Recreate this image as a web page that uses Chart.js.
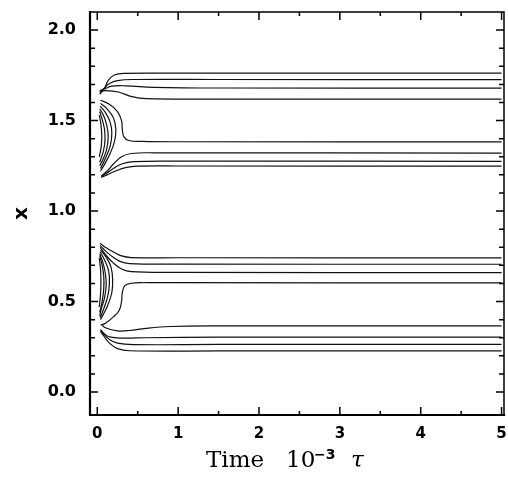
<!DOCTYPE html>
<html>
<head>
<meta charset="utf-8">
<script src="https://cdn.jsdelivr.net/npm/chart.js@4.4.1/dist/chart.umd.min.js"></script>
<style>
  html, body { margin: 0; padding: 0; background: #fff; }
  canvas { display: block; }
</style>
</head>
<body>
<canvas id="traj" width="508" height="482"></canvas>
<script>
// Axis ticks
const xTickValues = [0, 1, 2, 3, 4, 5];
const xMinorTicks = [0.5, 1.5, 2.5, 3.5, 4.5];
const yTickValues = [0, 0.5, 1, 1.5, 2];
const yMinorTicks = [0.1, 0.2, 0.3, 0.4, 0.6, 0.7, 0.8, 0.9, 1.1, 1.2, 1.3, 1.4, 1.6, 1.7, 1.8, 1.9];

// Curves: [time (10^-3 tau), X]
// top group
const lineA1 = [[0.03,1.645],[0.09,1.68],[0.14,1.725],[0.21,1.752],[0.33,1.761],[1,1.762],[5,1.762]];
const lineA2 = [[0.03,1.655],[0.09,1.68],[0.15,1.705],[0.25,1.721],[0.45,1.727],[1.5,1.727],[5,1.726]];
const lineA3 = [[0.03,1.665],[0.09,1.675],[0.18,1.69],[0.35,1.692],[0.7,1.684],[1.5,1.68],[5,1.679]];
const lineA4 = [[0.04,1.66],[0.1,1.665],[0.26,1.658],[0.43,1.632],[0.6,1.621],[1.5,1.619],[5,1.618]];
// second group, outer bulge comes in from the top
const lineB1 = [[0.04,1.612],[0.15,1.59],[0.25,1.55],[0.3,1.50],[0.31,1.45],[0.33,1.41],[0.39,1.39],[0.55,1.385],[1,1.383],[5,1.382]];
const lineB2 = [[0.05,1.195],[0.12,1.22],[0.2,1.26],[0.3,1.30],[0.42,1.318],[0.7,1.322],[5,1.32]];
const lineB3 = [[0.05,1.19],[0.12,1.21],[0.2,1.235],[0.3,1.26],[0.45,1.273],[1,1.276],[5,1.275]];
const lineB4 = [[0.05,1.185],[0.12,1.2],[0.22,1.22],[0.35,1.24],[0.5,1.248],[1,1.249],[5,1.248]];
const loopB1 = [[0.04,1.595],[0.12,1.565],[0.2,1.515],[0.23,1.45],[0.21,1.38],[0.15,1.31],[0.08,1.25],[0.04,1.22]];
const loopB2 = [[0.035,1.58],[0.1,1.545],[0.16,1.49],[0.18,1.43],[0.16,1.36],[0.1,1.29],[0.04,1.235]];
const loopB3 = [[0.03,1.565],[0.08,1.525],[0.12,1.47],[0.135,1.41],[0.115,1.34],[0.07,1.285],[0.03,1.25]];
const loopB4 = [[0.03,1.55],[0.065,1.5],[0.09,1.45],[0.095,1.39],[0.075,1.33],[0.03,1.27]];
const loopB5 = [[0.025,1.53],[0.045,1.48],[0.055,1.42],[0.05,1.36],[0.025,1.3]];
// third group, lines come in from the top
const lineC1 = [[0.035,0.822],[0.1,0.80],[0.2,0.774],[0.3,0.752],[0.42,0.743],[1,0.742],[5,0.741]];
const lineC2 = [[0.035,0.81],[0.1,0.78],[0.18,0.75],[0.28,0.722],[0.4,0.71],[1,0.707],[5,0.706]];
const lineC3 = [[0.035,0.80],[0.1,0.76],[0.2,0.712],[0.3,0.68],[0.42,0.665],[1,0.661],[5,0.66]];
const lineC4 = [[0.04,0.37],[0.1,0.38],[0.2,0.415],[0.27,0.45],[0.3,0.50],[0.31,0.55],[0.34,0.588],[0.42,0.601],[0.6,0.604],[1,0.604],[5,0.603]];
const loopC1 = [[0.04,0.785],[0.11,0.745],[0.17,0.69],[0.19,0.62],[0.18,0.55],[0.13,0.48],[0.07,0.425],[0.04,0.40]];
const loopC2 = [[0.035,0.775],[0.09,0.73],[0.14,0.67],[0.15,0.6],[0.13,0.53],[0.08,0.46],[0.035,0.41]];
const loopC3 = [[0.03,0.765],[0.07,0.715],[0.1,0.655],[0.11,0.59],[0.09,0.52],[0.05,0.46],[0.03,0.42]];
const loopC4 = [[0.03,0.755],[0.06,0.7],[0.08,0.64],[0.08,0.57],[0.06,0.5],[0.03,0.44]];
const loopC5 = [[0.025,0.74],[0.04,0.68],[0.045,0.61],[0.04,0.54],[0.025,0.47]];
// bottom group
const lineD1 = [[0.05,0.375],[0.1,0.355],[0.25,0.338],[0.4,0.34],[0.6,0.352],[0.9,0.362],[1.5,0.365],[5,0.365]];
const lineD2 = [[0.04,0.345],[0.08,0.325],[0.15,0.305],[0.3,0.298],[0.6,0.3],[1.5,0.303],[5,0.303]];
const lineD3 = [[0.04,0.34],[0.08,0.32],[0.15,0.29],[0.25,0.27],[0.45,0.262],[1.5,0.263],[5,0.263]];
const lineD4 = [[0.04,0.335],[0.08,0.31],[0.15,0.27],[0.25,0.24],[0.4,0.228],[1.5,0.227],[5,0.227]];

const curves = [
  lineA1, lineA2, lineA3, lineA4,
  lineB1, lineB2, lineB3, lineB4, loopB1, loopB2, loopB3, loopB4, loopB5,
  lineC1, lineC2, lineC3, lineC4, loopC1, loopC2, loopC3, loopC4, loopC5,
  lineD1, lineD2, lineD3, lineD4
];

// Frame, inward ticks and the x title
const framePlugin = {
  id: "frame",
  afterDraw(chart) {
    const { ctx, chartArea: a, scales } = chart;
    const xs = scales.x, ys = scales.y;
    ctx.save();
    ctx.strokeStyle = "#000";
    ctx.lineCap = "square";

    ctx.lineWidth = 1.5;
    ctx.beginPath();
    ctx.moveTo(a.left, a.top); ctx.lineTo(a.right, a.top); ctx.lineTo(a.right, a.bottom);
    ctx.stroke();
    ctx.lineWidth = 2.2;
    ctx.beginPath();
    ctx.moveTo(a.left, a.top); ctx.lineTo(a.left, a.bottom); ctx.lineTo(a.right, a.bottom);
    ctx.stroke();

    ctx.lineWidth = 1.5;
    ctx.lineCap = "butt";
    ctx.beginPath();
    xTickValues.concat(xMinorTicks).forEach(v => {
      const len = xTickValues.includes(v) ? 8 : 4;
      const px = xs.getPixelForValue(v);
      ctx.moveTo(px, a.bottom); ctx.lineTo(px, a.bottom - len);
      ctx.moveTo(px, a.top); ctx.lineTo(px, a.top + len);
    });
    yTickValues.concat(yMinorTicks).forEach(v => {
      const len = yTickValues.includes(v) ? 8 : 5;
      const py = ys.getPixelForValue(v);
      ctx.moveTo(a.left, py); ctx.lineTo(a.left + len, py);
      ctx.moveTo(a.right, py); ctx.lineTo(a.right - len, py);
    });
    ctx.stroke();

    // x axis title: Time 10^-3 tau
    ctx.fillStyle = "#000";
    ctx.textBaseline = "alphabetic";
    ctx.textAlign = "left";
    ctx.font = "23px 'DejaVu Serif'";
    ctx.fillText("Time", 206, 467);
    ctx.fillText("10", 286, 467);
    ctx.font = "bold 14px 'DejaVu Sans'";
    ctx.fillText("\u22123", 314, 459);
    ctx.font = "italic 23px 'DejaVu Serif'";
    ctx.fillText("\u03c4", 351, 467);
    ctx.restore();
  }
};

const chart = new Chart(document.getElementById("traj"), {
  type: "scatter",
  data: {
    datasets: curves.map((c, i) => ({
      label: "c" + i,
      data: c.map(p => ({ x: p[0], y: p[1] })),
      showLine: true,
      pointRadius: 0,
      borderColor: "#111",
      borderWidth: 1.2,
      tension: 0.4,
      fill: false
    }))
  },
  options: {
    responsive: false,
    animation: false,
    devicePixelRatio: 1,
    layout: { padding: { top: 12, right: 4, left: 0, bottom: 0 } },
    plugins: { legend: { display: false }, tooltip: { enabled: false } },
    scales: {
      x: {
        type: "linear",
        min: -0.09,
        max: 5.03,
        grid: { display: false, drawTicks: false },
        border: { display: false },
        afterBuildTicks: s => { s.ticks = xTickValues.map(v => ({ value: v })); },
        afterFit: s => { s.height = 67; s.paddingLeft = 0; s.paddingRight = 0; },
        ticks: {
          padding: 10,
          color: "#000",
          maxRotation: 0,
          font: { family: "DejaVu Sans", weight: "bold", size: 15 },
          callback: v => String(v)
        }
      },
      y: {
        type: "linear",
        min: -0.127,
        max: 2.1,
        grid: { display: false, drawTicks: false },
        border: { display: false },
        afterBuildTicks: s => { s.ticks = yTickValues.map(v => ({ value: v })); },
        afterFit: s => { s.width = 90; s.paddingTop = 0; s.paddingBottom = 0; },
        title: {
          display: true,
          text: "x",
          color: "#000",
          font: { family: "DejaVu Sans", weight: "bold", size: 20 },
          padding: { top: 10, bottom: 0 }
        },
        ticks: {
          padding: 14,
          color: "#000",
          font: { family: "DejaVu Sans", weight: "bold", size: 16 },
          callback: v => Number(v).toFixed(1)
        }
      }
    }
  },
  plugins: [framePlugin]
});
</script>
</body>
</html>
